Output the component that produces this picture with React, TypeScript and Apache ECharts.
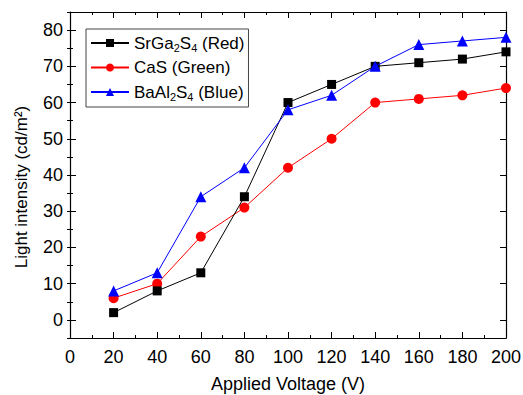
import React, { useEffect, useRef } from "react";
import * as echarts from "echarts";

const voltages = [20, 40, 60, 80, 100, 120, 140, 160, 180, 200];
const srga = [2, 8, 13, 34, 60, 65, 70, 71, 72, 74];
const cas = [6, 10, 23, 31, 42, 50, 60, 61, 62, 64];
const baal = [8, 13, 34, 42, 58, 62, 70, 76, 77, 78];
const seriesNames = ["SrGa2S4 (Red)", "CaS (Green)", "BaAl2S4 (Blue)"];
const legendRich: Record<string, string> = {
  "SrGa2S4 (Red)": "{n|SrGa}{s|2}{n|S}{s|4}{n| (Red)}",
  "CaS (Green)": "{n|CaS (Green)}",
  "BaAl2S4 (Blue)": "{n|BaAl}{s|2}{n|S}{s|4}{n| (Blue)}",
};

const FONT = "'Liberation Sans', Arial, sans-serif";

export default function App() {
  const ref = useRef<HTMLDivElement>(null);
  useEffect(() => {
    if (!ref.current) return;
    const chart = echarts.init(ref.current, null, { renderer: "svg" });
    const pair = (ys: number[]) => voltages.map((v, i) => [v, ys[i]]);
    const tickStyle = { color: "#000", width: 1 };
    const baseX = {
      type: "value",
      min: 0,
      max: 200,
      interval: 20,
      axisLine: { show: true, onZero: false, lineStyle: { color: "#000", width: 1.2 } },
      axisTick: { show: true, inside: true, length: 6, lineStyle: tickStyle },
      minorTick: { show: true, splitNumber: 2, length: 3, lineStyle: tickStyle },
      splitLine: { show: false },
      minorSplitLine: { show: false },
    };
    const baseY = {
      type: "value",
      min: -5,
      max: 85,
      minInterval: 10,
      maxInterval: 10,
      axisLine: { show: true, onZero: false, lineStyle: { color: "#000", width: 1.2 } },
      axisTick: { show: true, inside: true, length: 6, lineStyle: tickStyle },
      splitLine: { show: false },
    };
    const minorY = {
      type: "value",
      min: -5,
      max: 85,
      interval: 5,
      axisLine: { show: false },
      axisTick: { show: true, inside: true, length: 3, lineStyle: tickStyle },
      axisLabel: { show: false },
      splitLine: { show: false },
    };
    chart.setOption({
      animation: false,
      backgroundColor: "#fff",
      textStyle: { fontFamily: FONT },
      grid: {
        left: 70,
        right: 17,
        top: 12,
        bottom: 57,
        containLabel: false,
        outerBoundsMode: "none",
      },
      legend: {
        orient: "vertical",
        left: 86,
        top: 29,
        data: seriesNames,
        itemWidth: 38,
        itemHeight: 10,
        itemGap: 6,
        padding: [4, 4, 5, 4],
        borderColor: "#444",
        borderWidth: 1,
        formatter: (name: string) => legendRich[name] || name,
        textStyle: {
          fontFamily: FONT,
          color: "#000",
          rich: {
            n: { fontSize: 17, fontFamily: FONT, color: "#000", lineHeight: 22 },
            s: { fontSize: 11, fontFamily: FONT, color: "#000", padding: [9, 0, 0, 0], lineHeight: 22 },
          },
        },
      },
      xAxis: [
        {
          ...baseX,
          position: "bottom",
          name: "Applied Voltage (V)",
          nameLocation: "middle",
          nameGap: 37,
          nameTextStyle: { fontSize: 18, fontFamily: FONT, color: "#000" },
          axisLabel: { show: true, fontSize: 18, fontFamily: FONT, color: "#000", margin: 10 },
        },
        {
          ...baseX,
          position: "top",
          axisLabel: { show: false },
        },
      ],
      yAxis: [
        {
          ...baseY,
          position: "left",
          name: "Light intensity (cd/m²)",
          nameLocation: "middle",
          nameGap: 40,
          nameTextStyle: {
            fontSize: 17,
            fontFamily: FONT,
            color: "#000",
            padding: [0, 24, 0, 0],
          },
          axisLabel: {
            show: true,
            fontSize: 18,
            fontFamily: FONT,
            color: "#000",
            margin: 7,
            showMinLabel: false,
            showMaxLabel: false,
          },
        },
        { ...baseY, position: "right", axisLabel: { show: false } },
        { ...minorY, position: "left" },
        { ...minorY, position: "right" },
      ],
      series: [
        {
          name: seriesNames[0],
          type: "line",
          data: pair(srga),
          symbol: "rect",
          symbolSize: 9,
          color: "#000000",
          lineStyle: { width: 1, color: "#000000" },
          itemStyle: { color: "#000000" },
          z: 3,
        },
        {
          name: seriesNames[1],
          type: "line",
          data: pair(cas),
          symbol: "circle",
          symbolSize: 10,
          color: "#ff0000",
          lineStyle: { width: 1, color: "#ff0000" },
          itemStyle: { color: "#ff0000" },
          z: 2,
        },
        {
          name: seriesNames[2],
          type: "line",
          data: pair(baal),
          symbol: "triangle",
          symbolSize: 11,
          color: "#0000ff",
          lineStyle: { width: 1, color: "#0000ff" },
          itemStyle: { color: "#0000ff" },
          z: 4,
        },
      ],
    });
    return () => chart.dispose();
  }, []);
  return (
    <div
      ref={ref}
      style={{ position: "absolute", left: 0, top: 0, width: 523, height: 395 }}
    />
  );
}
